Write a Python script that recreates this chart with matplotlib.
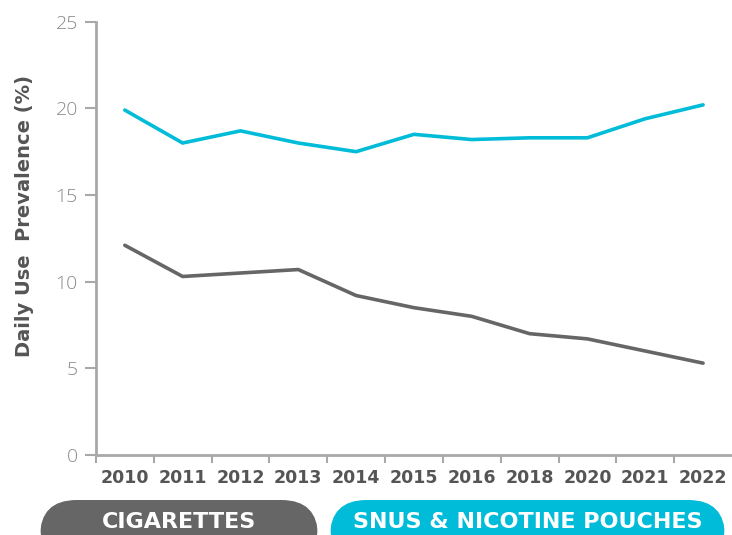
import matplotlib.pyplot as plt
from matplotlib.patches import FancyBboxPatch

years = ["2010", "2011", "2012", "2013", "2014", "2015", "2016", "2018", "2020", "2021", "2022"]
snus = [19.9, 18.0, 18.7, 18.0, 17.5, 18.5, 18.2, 18.3, 18.3, 19.4, 20.2]
cigarettes = [12.1, 10.3, 10.5, 10.7, 9.2, 8.5, 8.0, 7.0, 6.7, 6.0, 5.3]
y_ticks = [0, 5, 10, 15, 20, 25]

cyan = "#00BCD9"
grey = "#666666"
axis_grey = "#A8A8A8"

plt.rcParams["font.family"] = ["DejaVu Sans"]

fig = plt.figure(figsize=(7.32, 5.35), dpi=100)
ax = fig.add_axes([0.131, 0.1495, 0.869, 0.81])

x = range(len(years))
ax.plot(x, snus, color=cyan, lw=2.6, solid_capstyle="round", solid_joinstyle="round")
ax.plot(x, cigarettes, color=grey, lw=2.6, solid_capstyle="round", solid_joinstyle="round")

ax.set_xlim(-0.5, len(years) - 0.5)
ax.set_ylim(0, 25)
ax.set_yticks(y_ticks)
ax.set_yticklabels([str(v) for v in y_ticks], fontsize=14, color="#8A8A8A",
                   fontweight="light", family=["Open Sans", "DejaVu Sans"])

# tick marks between categories, labels at centres
ax.set_xticks([i - 0.5 for i in range(len(years))])
ax.set_xticklabels([])
ax.set_xticks(list(x), minor=True)
ax.set_xticklabels(years, minor=True, fontsize=12.5, color="#555555", fontweight="bold")
ax.tick_params(axis="x", which="minor", length=0, pad=10)
ax.tick_params(axis="x", which="major", length=6, width=1.5, color=axis_grey)
ax.tick_params(axis="y", length=8, width=1.5, color=axis_grey, pad=5)

for s in ["top", "right"]:
    ax.spines[s].set_visible(False)
for s in ["left", "bottom"]:
    ax.spines[s].set_color(axis_grey)
    ax.spines[s].set_linewidth(2)

ax.set_ylabel("Daily Use  Prevalence (%)", fontsize=14, fontweight="bold", color="#555555")
ax.yaxis.set_label_coords(-0.097, 0.552)

# legend pills at the bottom
W, H = 732, 535
pills = [(40, 318, grey, "CIGARETTES"), (330, 725, cyan, "SNUS & NICOTINE POUCHES")]
for x0, x1, col, label in pills:
    p = FancyBboxPatch((x0 / W, 1 - 535 / H - 0.05), (x1 - x0) / W, 35 / H + 0.05,
                       boxstyle="round,pad=0,rounding_size=0.05", transform=fig.transFigure,
                       facecolor=col, edgecolor="none", mutation_aspect=W / H)
    fig.patches.append(p)
    fig.text((x0 + x1) / 2 / W, 1 - 522 / H, label, ha="center", va="center",
             fontsize=16, color="white", fontweight="bold")

fig.savefig("out.png", dpi=100)
